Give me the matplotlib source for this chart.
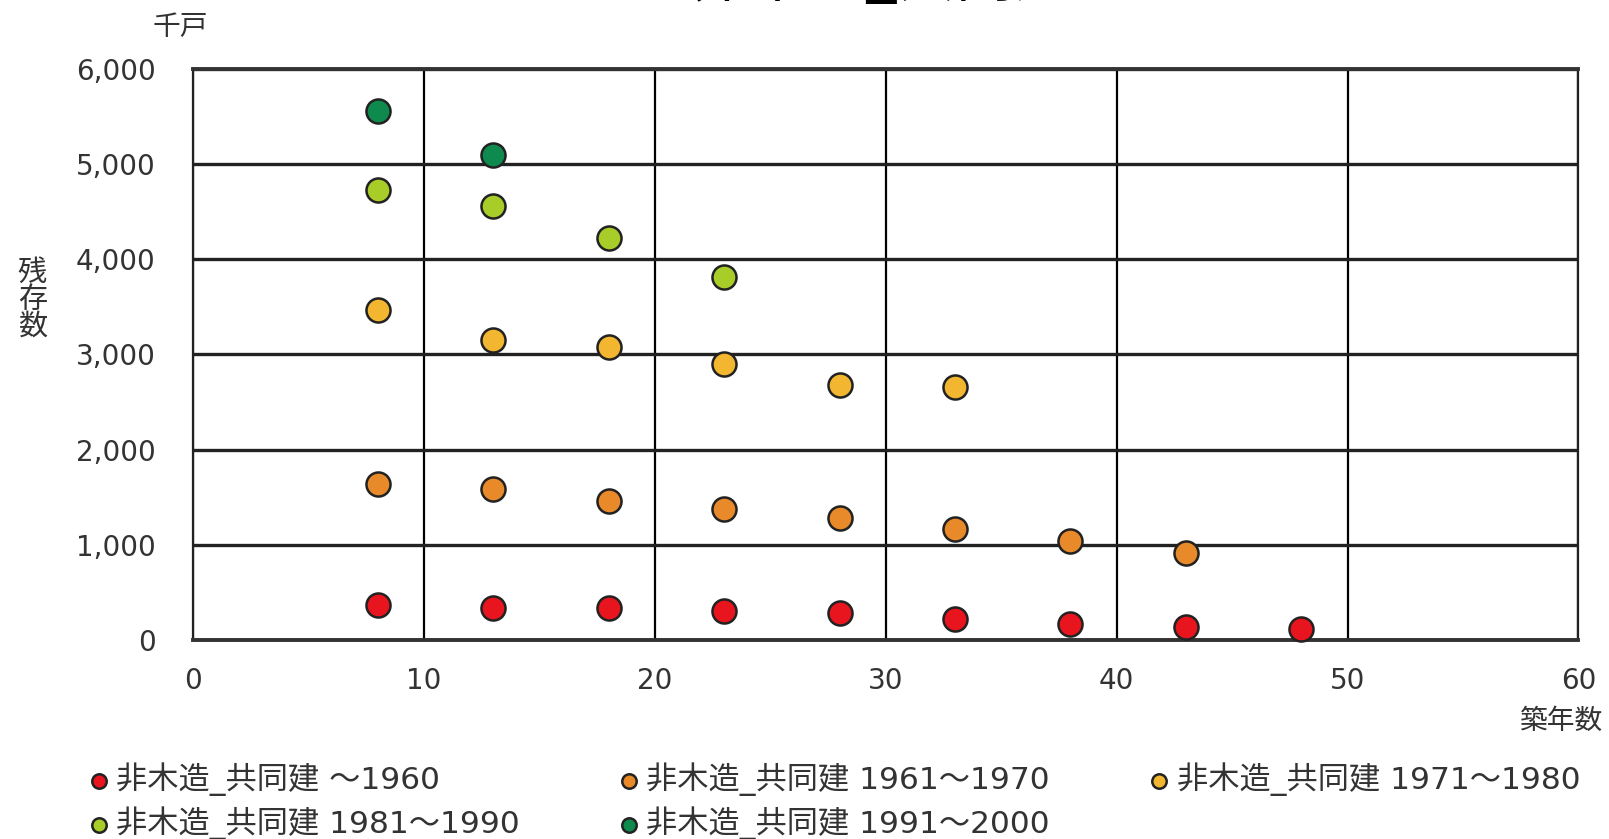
import numpy as np
import matplotlib
matplotlib.use("Agg")
import matplotlib.pyplot as plt

plt.rcParams["font.family"] = ["DejaVu Sans", "Noto Sans CJK JP"]

# 築年数 (x) and 残存数 in 千戸 (y) per cohort
age = [8, 13, 18, 23, 28, 33, 38, 43, 48]
labels = ["非木造_共同建 ～1960", "非木造_共同建 1961～1970", "非木造_共同建 1971～1980",
          "非木造_共同建 1981～1990", "非木造_共同建 1991～2000"]
s_1960 = [366, 334, 334, 302, 280, 226, 172, 140, 118]
s_1970 = [1637, 1584, 1465, 1379, 1282, 1163, 1045, 916]
s_1980 = [3469, 3156, 3081, 2898, 2682, 2661]
s_1990 = [4729, 4557, 4223, 3813]
s_2000 = [5558, 5095]
series = [s_1960, s_1970, s_1980, s_1990, s_2000]
colors = ["#E8141E", "#E8892A", "#F2B630", "#A8CC28", "#0F8A4E"]

xticks = [0, 10, 20, 30, 40, 50, 60]
yticks = [0, 1000, 2000, 3000, 4000, 5000, 6000]

fig = plt.figure(figsize=(16.09, 8.39), dpi=100)
ax = fig.add_axes([0.12, 0.237, 0.861, 0.681])

handles = []
for vals, c, lab in zip(series, colors, labels):
    h = ax.scatter(age[:len(vals)], vals, s=300, color=c, edgecolor="#222222",
                   linewidth=1.8, zorder=3, label=lab, clip_on=False)
    handles.append(h)

ax.set_xlim(0, 60)
ax.set_ylim(0, 6000)
ax.set_xticks(xticks)
ax.set_yticks(yticks)
ax.set_yticklabels([f"{v:,}" for v in yticks])
ax.tick_params(length=0, labelsize=20, colors="#333333")
ax.tick_params(axis="y", pad=27)
ax.tick_params(axis="x", pad=19)
ax.grid(True, axis="y", color="#222222", linewidth=2.4)
ax.grid(True, axis="x", color="#000000", linewidth=1.6)
for sp in ["top", "bottom"]:
    ax.spines[sp].set_linewidth(2.8)
    ax.spines[sp].set_color("#333333")
for sp in ["left", "right"]:
    ax.spines[sp].set_linewidth(1.6)
    ax.spines[sp].set_color("#222222")
ax.set_axisbelow(True)

fig.text(0.548, 1 - 10 / 839, "非木造_共同建", ha="center", va="bottom", fontsize=42,
         family=["Noto Sans CJK JP"])
fig.text(0.112, 1 - 27 / 839, "千戸", ha="center", va="center", fontsize=20, color="#333333")
fig.text(0.02, 1 - 300 / 839, "残\n存\n数", ha="center", va="center", fontsize=21,
         color="#333333", linespacing=0.95)
fig.text(0.996, 1 - 721 / 839, "築年数", ha="right", va="center", fontsize=20, color="#333333")

# reorder so the legend reads row by row
order = [0, 3, 1, 4, 2]
leg = fig.legend([handles[i] for i in order], [labels[i] for i in order],
                 loc="lower left", bbox_to_anchor=(0.044, -0.016), ncol=3, frameon=False,
                 fontsize=22.5, handletextpad=0.05, columnspacing=3.0, labelspacing=0.33,
                 markerscale=0.6, borderaxespad=0, handlelength=1.0)
for t in leg.get_texts():
    t.set_color("#333333")

fig.savefig("out.png", dpi=100)
